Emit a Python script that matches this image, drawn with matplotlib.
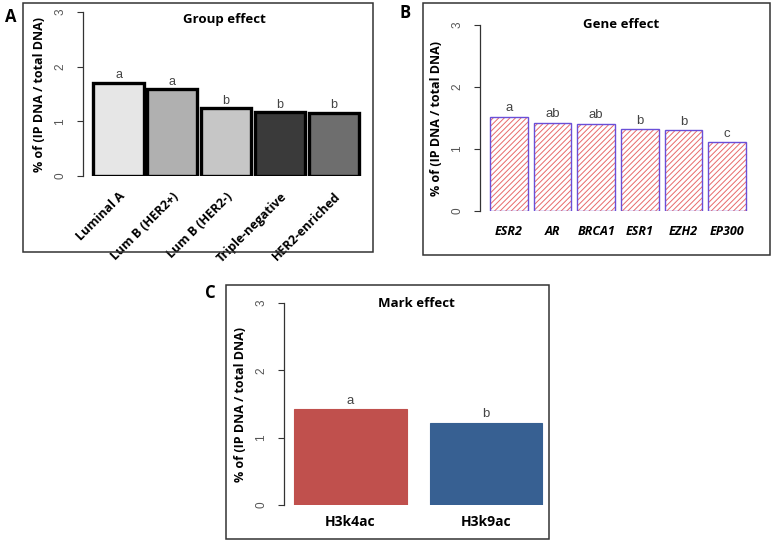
import matplotlib
matplotlib.use("Agg")
import matplotlib.pyplot as plt
from matplotlib.patches import Rectangle
from matplotlib.transforms import ScaledTranslation

plt.rcParams['font.family'] = ['Liberation Sans', 'DejaVu Sans']
plt.rcParams['hatch.linewidth'] = 0.7

# data
groups = ['Luminal A', 'Lum B (HER2+)', 'Lum B (HER2-)', 'Triple-negative', 'HER2-enriched']
group_vals = [1.71, 1.59, 1.25, 1.17, 1.16]
group_letters = ['a', 'a', 'b', 'b', 'b']
group_colors = ['#e6e6e6', '#b0b0b0', '#c6c6c6', '#3a3a3a', '#6e6e6e']

genes = ['ESR2', 'AR', 'BRCA1', 'ESR1', 'EZH2', 'EP300']
gene_vals = [1.52, 1.42, 1.41, 1.32, 1.30, 1.11]
gene_letters = ['a', 'ab', 'ab', 'b', 'b', 'c']

marks = ['H3k4ac', 'H3k9ac']
mark_vals = [1.42, 1.22]
mark_letters = ['a', 'b']
mark_colors = ['#c0504d', '#376092']

BOLD = ['Open Sans', 'DejaVu Sans']
W, H = 772, 541
fig = plt.figure(figsize=(W / 100, H / 100), dpi=100)

def px_axes(x0, y0, x1, y1):
    # pixel box (top-left origin) -> figure axes
    return fig.add_axes([x0 / W, 1 - y1 / H, (x1 - x0) / W, (y1 - y0) / H])

def px_box(x0, y0, x1, y1):
    fig.patches.append(Rectangle((x0 / W, 1 - y1 / H), (x1 - x0) / W, (y1 - y0) / H,
                                 transform=fig.transFigure, fill=False,
                                 edgecolor='#333333', linewidth=1.1))

def style_axis(ax, xlim):
    ax.set_ylim(0, 3)
    ax.set_xlim(*xlim)
    for s in ['top', 'right', 'bottom']:
        ax.spines[s].set_visible(False)
    ax.spines['left'].set_color('#333333')
    ax.spines['left'].set_linewidth(0.9)
    ax.set_yticks([0, 1, 2, 3])
    ax.tick_params(axis='y', length=4, width=0.8, color='#333333', labelsize=8.5,
                   labelcolor='#555555', pad=8, labelrotation=90)
    for lab in ax.get_yticklabels():
        lab.set_verticalalignment('center')
    ax.tick_params(axis='x', length=0)
    ax.set_ylabel('% of (IP DNA / total DNA)', fontsize=9, fontweight='bold',
                  family=BOLD, labelpad=6)
    ax.patch.set_alpha(0)

# ---- panel A
px_box(23, 3, 373, 252)
ax1 = px_axes(83, 12, 365, 176)
x1 = list(range(len(groups)))
ax1.bar(x1, group_vals, width=0.93, color=group_colors, edgecolor='black', linewidth=2.4)
for xi, v, t in zip(x1, group_vals, group_letters):
    ax1.text(xi, v + 0.02, t, ha='center', va='bottom', fontsize=9, color='#444444')
style_axis(ax1, (-0.66, 4.58))
ax1.set_xticks(x1)
ax1.set_xticklabels(groups, rotation=45, ha='right', rotation_mode='anchor',
                    fontsize=9, fontweight='bold', family=BOLD)
shift = ScaledTranslation(10 / 100, 0, fig.dpi_scale_trans)
for lab in ax1.get_xticklabels():
    lab.set_transform(lab.get_transform() + shift)
ax1.tick_params(axis='x', pad=10)
ax1.set_title('Group effect', fontsize=9.5, fontweight='bold', family=BOLD, y=0.88)
fig.text(5 / W, 1 - 17 / H, 'A', fontsize=12, fontweight='bold', va='center', family=BOLD)

# ---- panel B
px_box(423, 3, 770, 255)
ax2 = px_axes(480, 25, 762, 211)
x2 = list(range(len(genes)))
ax2.bar(x2, gene_vals, width=0.86, color='white', edgecolor='#e86a6a',
        hatch='//////', linewidth=0)
ax2.bar(x2, gene_vals, width=0.86, fill=False, edgecolor='#6a4fd8', linewidth=1.0)
for xi, v, t in zip(x2, gene_vals, gene_letters):
    ax2.text(xi, v + 0.04, t, ha='center', va='bottom', fontsize=9.5, color='#444444')
style_axis(ax2, (-0.66, 5.8))
ax2.set_xticks(x2)
ax2.set_xticklabels(genes, fontsize=9, fontweight='bold', style='italic', family=BOLD)
ax2.tick_params(axis='x', pad=10)
ax2.set_title('Gene effect', fontsize=9.5, fontweight='bold', family=BOLD, y=0.94)
fig.text(400 / W, 1 - 13 / H, 'B', fontsize=12, fontweight='bold', va='center', family=BOLD)

# ---- panel C
px_box(226, 285, 549, 539)
ax3 = px_axes(284, 303, 548, 505)
x3 = list(range(len(marks)))
ax3.bar(x3, mark_vals, width=0.83, color=mark_colors, edgecolor=mark_colors, linewidth=0.8)
for xi, v, t in zip(x3, mark_vals, mark_letters):
    ax3.text(xi, v + 0.04, t, ha='center', va='bottom', fontsize=9.5, color='#444444')
style_axis(ax3, (-0.49, 1.46))
ax3.set_xticks(x3)
ax3.set_xticklabels(marks, fontsize=10, fontweight='bold', family=BOLD)
ax3.tick_params(axis='x', pad=7)
ax3.set_title('Mark effect', fontsize=9.5, fontweight='bold', family=BOLD, y=0.94)
fig.text(205 / W, 1 - 293 / H, 'C', fontsize=12, fontweight='bold', va='center', family=BOLD)

fig.savefig('out.png', dpi=100)
